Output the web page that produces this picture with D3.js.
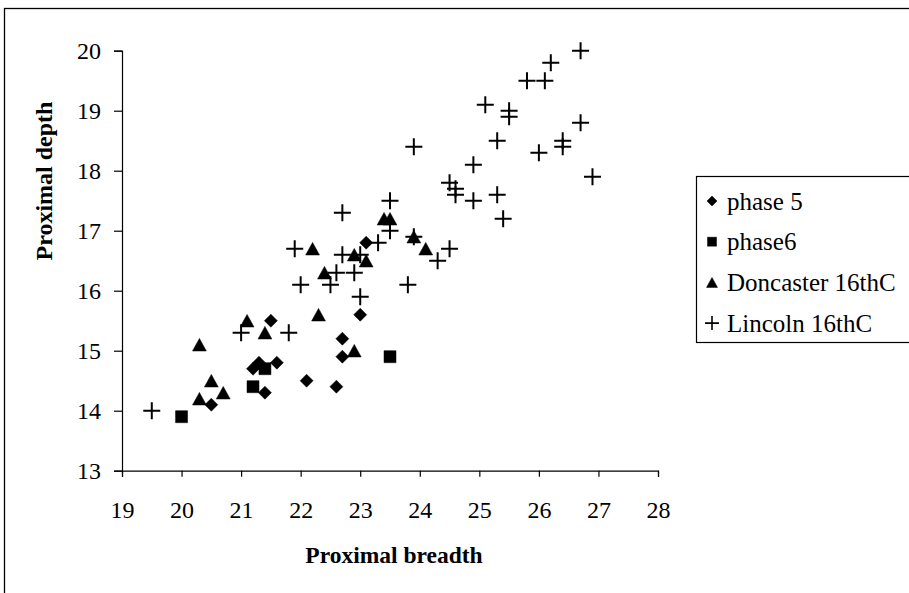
<!DOCTYPE html>
<html>
<head>
<meta charset="utf-8">
<script src="https://cdn.jsdelivr.net/npm/d3@7"></script>
<style>
  body { margin: 0; background: #fff; }
  svg { display: block; font-family: "Liberation Serif", "Times New Roman", serif; }
</style>
</head>
<body>
<svg id="chart" width="909" height="593"></svg>
<script>
// ---- data ----
const seriesNames = ["phase 5", "phase6", "Doncaster 16thC", "Lincoln 16thC"];
const phase5 = [[20.5,14.1],[21.2,14.7],[21.3,14.8],[21.4,14.3],[21.5,15.5],[21.6,14.8],[22.1,14.5],[22.6,14.4],[22.7,15.2],[22.7,14.9],[23.0,15.6],[23.1,16.8]];
const phase6 = [[20.0,13.9],[21.2,14.4],[21.4,14.7],[23.5,14.9]];
const doncaster = [[20.3,15.1],[20.3,14.2],[20.5,14.5],[20.7,14.3],[21.1,15.5],[21.4,15.3],[22.2,16.7],[22.3,15.6],[22.4,16.3],[22.9,16.6],[23.1,16.5],[22.9,15.0],[23.4,17.2],[23.5,17.2],[23.9,16.9],[24.1,16.7]];
const lincoln = [[19.5,14.0],[21.0,15.3],[21.8,15.3],[21.9,16.7],[22.0,16.1],[22.5,16.1],[22.6,16.3],[22.7,16.6],[22.7,17.3],[22.9,16.3],[23.0,15.9],[23.0,16.6],[23.3,16.8],[23.5,17.0],[23.5,17.5],[23.8,16.1],[23.9,16.9],[23.9,18.4],[24.3,16.5],[24.5,16.7],[24.5,17.8],[24.6,17.7],[24.6,17.6],[24.9,17.5],[24.9,18.1],[25.1,19.1],[25.3,17.6],[25.3,18.5],[25.4,17.2],[25.5,19.0],[25.5,18.9],[25.8,19.5],[26.0,18.3],[26.1,19.5],[26.2,19.8],[26.4,18.5],[26.4,18.4],[26.7,20.0],[26.7,18.8],[26.9,17.9]];
const xTicks = [19,20,21,22,23,24,25,26,27,28];
const yTicks = [13,14,15,16,17,18,19,20];
const xTitle = "Proximal breadth";
const yTitle = "Proximal depth";

// ---- layout ----
const svg = d3.select("#chart");
const pLeft = 122, pRight = 658, pTop = 50.7, pBottom = 470.7;
const x = d3.scaleLinear().domain([19, 28]).range([pLeft, pRight]);
const y = d3.scaleLinear().domain([13, 20]).range([pBottom, pTop]);

// outer chart border (extends beyond the window)
svg.append("rect").attr("x", 4.5).attr("y", 8.5).attr("width", 1000).attr("height", 700)
  .attr("fill", "none").attr("stroke", "#000").attr("stroke-width", 1.3);

// marker shapes
const shapes = {
  diamond: (s) => `M0,${-s}L${s},0L0,${s}L${-s},0Z`,
  square: (s) => `M${-s},${-s}H${s}V${s}H${-s}Z`,
  triangle: (s) => `M0,${-s}L${s*1.1},${s}L${-s*1.1},${s}Z`,
  plus: (s) => `M${-s},0H${s}M0,${-s}V${s}`
};
const series = [
  {name: seriesNames[0], data: phase5, shape: "diamond", size: 6.5, lsize: 5},
  {name: seriesNames[1], data: phase6, shape: "square", size: 6, lsize: 4.5},
  {name: seriesNames[2], data: doncaster, shape: "triangle", size: 6.3, lsize: 5},
  {name: seriesNames[3], data: lincoln, shape: "plus", size: 8.5, lsize: 7}
];

// axes
const xAxis = d3.axisBottom(x).tickValues(xTicks).tickSize(6).tickFormat(d3.format("d"));
const yAxis = d3.axisLeft(y).tickValues(yTicks).tickSize(8).tickFormat(d3.format("d"));
const gx = svg.append("g").attr("transform", `translate(0,${pBottom})`).call(xAxis);
const gy = svg.append("g").attr("transform", `translate(${pLeft},0)`).call(yAxis);
[gx, gy].forEach(g => {
  g.select(".domain").attr("stroke", "#000").attr("stroke-width", 1.2);
  g.selectAll(".tick line").attr("stroke", "#000").attr("stroke-width", 1.2);
  g.selectAll(".tick text").attr("fill", "#000").style("font-family", "Liberation Serif").style("font-size", "24px");
});
gx.selectAll(".tick text").attr("y", 0).attr("dy", 0).attr("transform", "translate(0,47.5)");
gy.selectAll(".tick text").attr("x", -21).attr("dy", "0.34em");

// points
series.forEach(s => {
  const g = svg.append("g");
  g.selectAll("path").data(s.data).enter().append("path")
    .attr("transform", d => `translate(${x(d[0])},${y(d[1])})`)
    .attr("d", shapes[s.shape](s.size))
    .attr("fill", s.shape === "plus" ? "none" : "#000")
    .attr("stroke", "#000")
    .attr("stroke-width", s.shape === "plus" ? 2 : 0.5);
});

// axis titles
svg.append("text").attr("x", (pLeft + pRight) / 2 + 4).attr("y", 563)
  .attr("text-anchor", "middle").attr("font-weight", "bold").attr("font-size", 23.5)
  .text(xTitle);
svg.append("text").attr("transform", "translate(52,181) rotate(-90)")
  .attr("text-anchor", "middle").attr("font-weight", "bold").attr("font-size", 24)
  .text(yTitle);

// legend
const lg = svg.append("g");
lg.append("rect").attr("x", 696.5).attr("y", 176.5).attr("width", 300).attr("height", 166)
  .attr("fill", "#fff").attr("stroke", "#000").attr("stroke-width", 1.2);
series.forEach((s, i) => {
  const cy = 201 + i * 40.7;
  lg.append("path").attr("transform", `translate(712,${cy})`).attr("d", shapes[s.shape](s.lsize))
    .attr("fill", s.shape === "plus" ? "none" : "#000").attr("stroke", "#000")
    .attr("stroke-width", s.shape === "plus" ? 1.6 : 0.5);
  lg.append("text").attr("x", 727).attr("y", cy).attr("dy", "0.34em")
    .attr("font-size", 25).text(s.name);
});
</script>
</body>
</html>
